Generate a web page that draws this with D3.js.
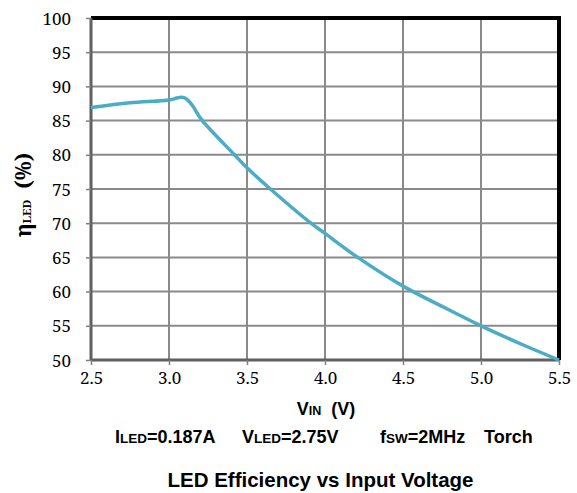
<!DOCTYPE html>
<html><head><meta charset="utf-8">
<script src="https://d3js.org/d3.v7.min.js"></script>
<style>body{margin:0;background:#fff}svg{display:block}
.serif{font-family:'Noto Serif','DejaVu Serif',serif}</style>
</head><body>
<svg id="c" width="577" height="493"></svg>
<script>
const vin = [2.5, 2.75, 3.0, 3.05, 3.08, 3.11, 3.15, 3.21, 3.42, 3.5, 3.65, 3.91, 4.0, 4.21, 4.5, 4.78, 5.0, 5.26, 5.5];
const eff = [86.9, 87.6, 88.0, 88.3, 88.4, 88.2, 87.2, 85.1, 80.0, 78.1, 75.0, 70.0, 68.5, 65.0, 60.8, 57.5, 55.0, 52.3, 50.0];
const xTicks = [2.5, 3.0, 3.5, 4.0, 4.5, 5.0, 5.5];
const yTicks = [50, 55, 60, 65, 70, 75, 80, 85, 90, 95, 100];

const svg = d3.select("#c");
const L = 91, R = 559, T = 18, B = 360;
const x = d3.scaleLinear().domain([2.5, 5.5]).range([L, R]);
const y = d3.scaleLinear().domain([50, 100]).range([B, T]);

// grid
svg.append("g").selectAll("line").data(xTicks.slice(1, -1)).join("line")
  .attr("x1", d => x(d)).attr("x2", d => x(d)).attr("y1", T).attr("y2", B)
  .attr("stroke", "#8a8a8a").attr("stroke-width", 2);
svg.append("g").selectAll("line").data(yTicks.slice(1, -1)).join("line")
  .attr("x1", L).attr("x2", R).attr("y1", d => y(d)).attr("y2", d => y(d))
  .attr("stroke", "#8a8a8a").attr("stroke-width", 2);

// top/right frame
svg.append("path").attr("d", `M${L},${T}H${R}V${B}`).attr("fill", "none")
  .attr("stroke", "#000").attr("stroke-width", 4);

// axes
const ax = svg.append("g").attr("transform", `translate(0,${B})`)
  .call(d3.axisBottom(x).tickValues(xTicks).tickFormat(d3.format(".1f")).tickSize(5).tickPadding(6));
const ay = svg.append("g").attr("transform", `translate(${L},0)`)
  .call(d3.axisLeft(y).tickValues(yTicks).tickFormat(d3.format("d")).tickSize(5).tickPadding(15));
[ax, ay].forEach(g => {
  g.attr("font-family", null).attr("font-size", 17);
  g.select(".domain").attr("stroke", "#606060").attr("stroke-width", 3);
  g.selectAll(".tick line").attr("stroke", "#808080").attr("stroke-width", 1.5);
  g.selectAll(".tick text").attr("fill", "#000").attr("class", "serif");
});
ax.select(".domain").attr("d", `M${L},0H${R}`);
ay.select(".domain").attr("d", `M0,${T}V${B}`);
ay.selectAll(".tick text").attr("dy", "0.36em");
ax.selectAll(".tick text").attr("dy", "0.75em");

// line
const line = d3.line().x((d, i) => x(vin[i])).y((d, i) => y(eff[i])).curve(d3.curveCatmullRom.alpha(0.5));
svg.append("path").datum(eff).attr("d", line).attr("fill", "none")
  .attr("stroke", "#4bacc6").attr("stroke-width", 3.5).attr("stroke-linejoin", "round");

// y label
const yl = svg.append("text").attr("class", "serif").attr("transform", "translate(31,195) rotate(-90)")
  .attr("text-anchor", "middle").attr("font-weight", "bold").attr("font-size", 21);
yl.append("tspan").text("η");
yl.append("tspan").attr("font-size", 11.5).text("LED");
yl.append("tspan").attr("style", "white-space:pre").text("  (%)");

const sans = "'Liberation Sans', Arial, sans-serif";
// x label
const xl = svg.append("text").attr("x", 326).attr("y", 415).attr("text-anchor", "middle")
  .attr("font-family", sans).attr("font-weight", "bold").attr("font-size", 18);
xl.append("tspan").text("V");
xl.append("tspan").attr("font-size", 12.5).text("IN");
xl.append("tspan").attr("style", "white-space:pre").text("  (V)");

// conditions line
const cond = [
  {x: 115, parts: [["I", 18], ["LED", 13.5], ["=0.187A", 18]]},
  {x: 242, parts: [["V", 18], ["LED", 13.5], ["=2.75V", 18]]},
  {x: 380, parts: [["f", 18], ["SW", 13.5], ["=2MHz", 18]]},
  {x: 484, parts: [["Torch", 18]]}
];
cond.forEach(c => {
  const t = svg.append("text").attr("x", c.x).attr("y", 443)
    .attr("font-family", sans).attr("font-weight", "bold");
  c.parts.forEach(p => t.append("tspan").attr("font-size", p[1]).text(p[0]));
});

svg.append("text").attr("x", 320.5).attr("y", 487).attr("text-anchor", "middle")
  .attr("font-family", sans).attr("font-weight", "bold").attr("font-size", 20.5)
  .text("LED Efficiency vs Input Voltage");
</script>
</body></html>
